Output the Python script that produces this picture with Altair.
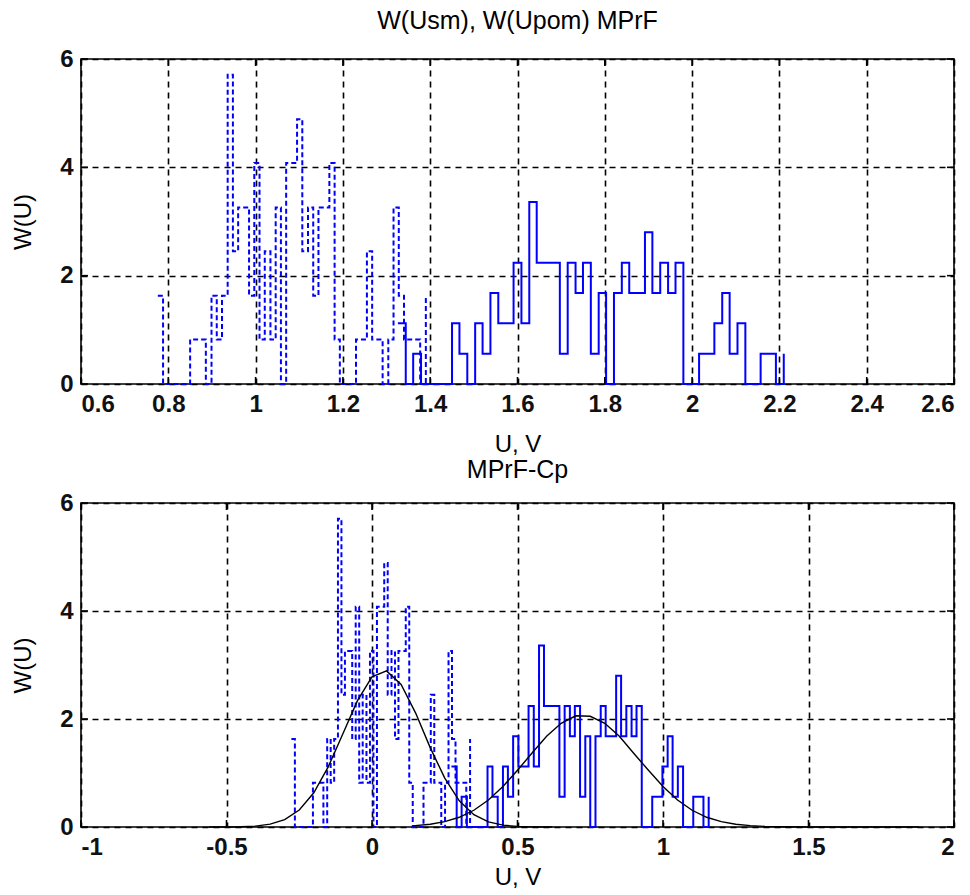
import altair as alt
import pandas as pd

# ---------------- data ----------------
# solid histogram (stairs): sample positions and heights W(U)
X_SOLID = [1.326, 1.344, 1.361, 1.379, 1.397, 1.414, 1.432, 1.450, 1.467, 1.485,
           1.503, 1.520, 1.538, 1.556, 1.574, 1.591, 1.609, 1.627, 1.644, 1.662,
           1.680, 1.697, 1.715, 1.733, 1.750, 1.768, 1.786, 1.803, 1.821, 1.839,
           1.856, 1.874, 1.892, 1.909, 1.927, 1.945, 1.962, 1.980, 1.998, 2.016,
           2.033, 2.051, 2.069, 2.086, 2.104, 2.122, 2.139, 2.157, 2.175, 2.192,
           2.210]
H_SOLID = [1.12, 0, 0.56, 0, 0, 0, 0, 1.12, 0.56, 0,
           1.12, 0.56, 1.68, 1.12, 1.12, 2.24, 1.12, 3.36, 2.24, 2.24,
           2.24, 0.56, 2.24, 1.68, 2.24, 0.56, 1.68, 0, 1.68, 2.24,
           1.68, 1.68, 2.80, 1.68, 2.24, 1.68, 2.24, 0, 0, 0.56,
           0.56, 1.12, 1.68, 0.56, 1.12, 0, 0, 0.56, 0.56, 0,
           0.56]

# dashed histogram (stairs)
X_DASH = [0.776, 0.788, 0.801, 0.813, 0.825, 0.837, 0.850, 0.862, 0.874, 0.886,
          0.899, 0.911, 0.923, 0.936, 0.948, 0.960, 0.972, 0.985, 0.997, 1.009,
          1.021, 1.034, 1.046, 1.058, 1.070, 1.083, 1.095, 1.107, 1.120, 1.132,
          1.144, 1.156, 1.169, 1.181, 1.193, 1.205, 1.218, 1.230, 1.242, 1.255,
          1.267, 1.279, 1.291, 1.304, 1.316, 1.328, 1.340, 1.353, 1.365, 1.377,
          1.390]
H_DASH = [1.63, 0, 0, 0, 0, 0, 0.82, 0.82, 0.82, 0,
          1.63, 0.82, 1.63, 5.71, 2.45, 3.26, 3.26, 1.63, 4.08, 0.82,
          2.45, 0.82, 3.26, 0, 4.08, 4.08, 4.89, 2.45, 3.26, 1.63,
          3.26, 3.26, 4.08, 0.82, 0, 0, 0, 0.82, 0.82, 2.45,
          0.82, 0.82, 0, 0.82, 3.26, 1.63, 0.82, 0.82, 0.82, 0,
          1.63]

# shift applied to the data in the lower panel
SHIFT = -1.053

# fitted density curves of the lower panel
G1_X = [-0.56, -0.50, -0.45, -0.40, -0.35, -0.30, -0.25, -0.20, -0.15, -0.10,
        -0.05, 0.00, 0.05, 0.10, 0.15, 0.20, 0.25, 0.30, 0.35, 0.40,
        0.45, 0.50, 0.55, 0.62]
G1_Y = [0.0, 0.001, 0.005, 0.017, 0.053, 0.137, 0.315, 0.634, 1.119, 1.728,
        2.34, 2.78, 2.89, 2.64, 2.11, 1.47, 0.905, 0.486, 0.229, 0.095,
        0.034, 0.011, 0.003, 0.0]
G2_X = [0.14, 0.20, 0.25, 0.30, 0.35, 0.40, 0.45, 0.50, 0.55, 0.60,
        0.65, 0.70, 0.75, 0.80, 0.85, 0.90, 0.95, 1.00, 1.05, 1.10,
        1.15, 1.20, 1.25, 1.30, 1.35, 1.40, 1.50, 1.60, 1.88]
G2_Y = [0.02, 0.05, 0.10, 0.18, 0.31, 0.50, 0.75, 1.05, 1.37, 1.68,
        1.92, 2.06, 2.05, 1.92, 1.68, 1.36, 1.05, 0.75, 0.50, 0.31,
        0.18, 0.10, 0.05, 0.025, 0.011, 0.005, 0.001, 0.0, 0.0]

TOP_TICKS = [0.6, 0.8, 1, 1.2, 1.4, 1.6, 1.8, 2, 2.2, 2.4, 2.6]
BOT_TICKS = [-1, -0.5, 0, 0.5, 1, 1.5, 2]
Y_TICKS = [0, 2, 4, 6]

TITLE_TOP = "W(Usm), W(Upom) MPrF"
TITLE_BOT = "MPrF-Cp"
XLABEL = "U, V"
YLABEL = "W(U)"

FONT = "Liberation Sans, Arial, sans-serif"
W, H1, H2 = 873, 325, 324
BLUE = "#0000ff"


def panel(xdom, xticks, title, h, shift, gauss, toff, xtpad):
    xs = alt.Scale(domain=xdom, nice=False, zero=False)
    ys = alt.Scale(domain=[0, 6], nice=False)
    xax = alt.Axis(values=xticks, title=XLABEL, labelExpr="'' + datum.value",
                   grid=True, ticks=False, domain=False, titlePadding=xtpad)
    yax = alt.Axis(values=Y_TICKS, title=YLABEL, labelExpr="'' + datum.value",
                   grid=True, ticks=False, domain=False, titlePadding=24)

    dash_df = pd.DataFrame({"x": [v + shift for v in X_DASH], "y": H_DASH})
    solid_df = pd.DataFrame({"x": [v + shift for v in X_SOLID], "y": H_SOLID})

    dashed = alt.Chart(dash_df).mark_line(
        interpolate="step-after", color=BLUE, strokeWidth=2, strokeDash=[5, 3]
    ).encode(x=alt.X("x:Q", scale=xs, axis=xax), y=alt.Y("y:Q", scale=ys, axis=yax))
    solid = alt.Chart(solid_df).mark_line(
        interpolate="step-after", color=BLUE, strokeWidth=2
    ).encode(x=alt.X("x:Q", scale=xs), y=alt.Y("y:Q", scale=ys))

    layers = [dashed, solid]
    for gx, gy in gauss:
        gdf = pd.DataFrame({"x": gx, "y": gy})
        layers.append(alt.Chart(gdf).mark_line(color="black", strokeWidth=1.4).encode(
            x=alt.X("x:Q", scale=xs), y=alt.Y("y:Q", scale=ys)))

    # inward ticks (MATLAB style) on all four sides
    xt = pd.DataFrame({"t": xticks})
    yt = pd.DataFrame({"t": Y_TICKS})
    tl = 7
    layers += [
        alt.Chart(xt).mark_rule(color="black", strokeWidth=1.6).encode(
            x=alt.X("t:Q", scale=xs), y=alt.value(h - tl), y2=alt.value(h)),
        alt.Chart(xt).mark_rule(color="black", strokeWidth=1.6).encode(
            x=alt.X("t:Q", scale=xs), y=alt.value(0), y2=alt.value(tl)),
        alt.Chart(yt).mark_rule(color="black", strokeWidth=1.6).encode(
            y=alt.Y("t:Q", scale=ys), x=alt.value(0), x2=alt.value(tl)),
        alt.Chart(yt).mark_rule(color="black", strokeWidth=1.6).encode(
            y=alt.Y("t:Q", scale=ys), x=alt.value(W - tl), x2=alt.value(W)),
    ]
    return alt.layer(*layers).properties(
        width=W, height=h,
        title=alt.TitleParams(title, fontSize=25, font=FONT, fontWeight="normal",
                              color="black", offset=toff),
    )


top = panel([0.6, 2.6], TOP_TICKS, TITLE_TOP, H1, 0.0, [], 13, 16)
bot = panel([-1, 2], BOT_TICKS, TITLE_BOT, H2, SHIFT, [(G1_X, G1_Y), (G2_X, G2_Y)], 8, 6)

chart = alt.vconcat(top, bot, spacing=0).properties(
    padding={"left": 10, "top": 8, "right": 10, "bottom": 2},
    background="white",
).configure_view(
    stroke="black", strokeWidth=1.6
).configure_axis(
    gridColor="black", gridDash=[6, 5], gridWidth=1.6, gridOpacity=1,
    labelFont=FONT, labelFontSize=24, labelFontWeight="bold", labelColor="#111111",
    labelPadding=8,
    titleFont=FONT, titleFontSize=24, titleColor="black", titleFontWeight="normal",
)

chart.save("out.html", embed_options={"renderer": "svg", "actions": False})
